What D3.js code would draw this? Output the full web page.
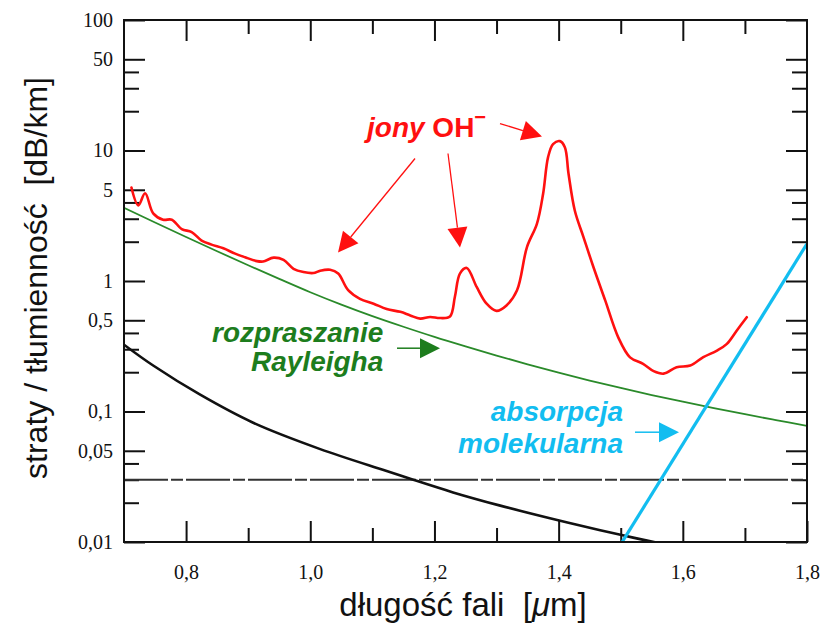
<!DOCTYPE html>
<html>
<head>
<meta charset="utf-8">
<script src="https://cdn.jsdelivr.net/npm/d3@7"></script>
<style>
  html, body { margin: 0; padding: 0; background: #fff; }
  svg { display: block; }
  text { white-space: pre; }
</style>
</head>
<body>
<svg id="chart" width="831" height="627"></svg>
<script>
// ---------- DATA ----------
const xMajorTicks = [0.8, 1.0, 1.2, 1.4, 1.6, 1.8];
const xMinorTicks = [0.9, 1.1, 1.3, 1.5, 1.7];
const xTopMajor = [0.8, 1.0, 1.2, 1.4, 1.6];
const yMajorTicks = [100, 50, 10, 5, 1, 0.5, 0.1, 0.05, 0.01];
const yMinorTicks = [40, 30, 20, 4, 3, 2, 0.4, 0.3, 0.2, 0.04, 0.03, 0.02];

// measured total loss (red)
const redWavelength = [0.712,0.723,0.734,0.747,0.763,0.777,0.793,0.809,0.825,0.841,0.860,0.879,0.895,0.914,0.924,0.941,0.957,0.973,0.989,1.005,1.016,1.032,1.045,1.061,1.080,1.102,1.123,1.145,1.161,1.177,1.193,1.209,1.225,1.233,1.241,1.252,1.268,1.284,1.300,1.316,1.333,1.349,1.365,1.375,1.383,1.391,1.402,1.410,1.416,1.426,1.440,1.456,1.475,1.496,1.515,1.536,1.553,1.569,1.590,1.612,1.633,1.655,1.671,1.687,1.703];
const redLoss = [5.2,3.8,4.7,3.3,2.95,2.95,2.5,2.37,2.04,1.9,1.78,1.62,1.52,1.42,1.41,1.51,1.45,1.24,1.17,1.15,1.2,1.22,1.14,0.85,0.73,0.67,0.61,0.58,0.545,0.515,0.53,0.52,0.535,0.76,1.14,1.26,0.9,0.67,0.59,0.65,0.85,1.82,2.74,4.66,8.9,11.2,11.8,10.6,6.6,3.47,2.17,1.28,0.71,0.37,0.26,0.232,0.204,0.195,0.218,0.225,0.261,0.293,0.33,0.418,0.528];

// Rayleigh scattering (green)
const greenWavelength = [0.70,0.75,0.80,0.85,0.90,0.95,1.00,1.05,1.10,1.15,1.20,1.25,1.30,1.35,1.40,1.45,1.50,1.55,1.60,1.65,1.70,1.75,1.80];
const greenLoss = [3.64,2.805,2.173,1.690,1.321,1.038,0.820,0.659,0.538,0.446,0.373,0.3155,0.2685,0.2301,0.1986,0.1726,0.1514,0.1337,0.1189,0.1062,0.0953,0.0859,0.0776];

// black curve
const blackWavelength = [0.700,0.747,0.822,0.908,1.016,1.123,1.161,1.230,1.306,1.386,1.467,1.520,1.575];
const blackLoss = [0.325,0.225,0.135,0.082,0.0515,0.0350,0.0305,0.0240,0.0190,0.0152,0.0123,0.0108,0.0095];

// molecular absorption (cyan)
const blueWavelength = [1.5, 1.8];
const blueLoss = [0.0096, 1.93];

// dashed reference level
const dashedLevel = 0.03;

// annotation anchors (data units)
const arrowsRed = [
  {from: [1.1687, 8.68], to: [1.0447, 1.654]},
  {from: [1.2218, 9.48], to: [1.2411, 1.806]},
  {from: [1.3056, 16.1], to: [1.3732, 12.8]}
];
const arrowGreen = {from: [1.1397, 0.3055], to: [1.2089, 0.3055]};
const arrowBlue = {from: [1.523, 0.0694], to: [1.5939, 0.0694]};

// ---------- DRAW ----------
const svg = d3.select('#chart');
const L = 124, R = 807, T = 20, B = 542;
const x = d3.scaleLinear().domain([0.7, 1.8]).range([L, R]);
const y = d3.scaleLog().domain([0.01, 100]).range([B, T]);
const fmt = v => String(v).replace('.', ',');
const fmtX = v => v.toFixed(1).replace('.', ',');

const RED = '#ff1010', GREEN = '#1d7d1d', GREENLINE = '#2a8a2a', CYAN = '#12bdf0', BLACK = '#111';

svg.append('defs').append('clipPath').attr('id', 'clip')
  .append('rect').attr('x', L).attr('y', T).attr('width', R - L).attr('height', B - T);

// axes (ticks inward)
function styleAxis(g, fontSize) {
  g.select('.domain').remove();
  g.selectAll('.tick line').attr('stroke', '#111').attr('stroke-width', 2);
  g.selectAll('.tick text').attr('fill', '#111')
    .attr('font-family', '"Liberation Serif", "DejaVu Serif", serif')
    .attr('font-size', fontSize);
}
svg.append('g').attr('transform', `translate(0,${B})`)
  .call(d3.axisBottom(x).tickValues(xMajorTicks).tickSize(-21).tickPadding(23).tickFormat(fmtX))
  .call(g => styleAxis(g, 20));
svg.append('g').attr('transform', `translate(0,${B})`)
  .call(d3.axisBottom(x).tickValues(xMinorTicks).tickSize(-14).tickFormat(''))
  .call(g => styleAxis(g, 20));
svg.append('g').attr('transform', `translate(0,${T})`)
  .call(d3.axisTop(x).tickValues(xTopMajor).tickSize(-21).tickFormat(''))
  .call(g => styleAxis(g, 20));
svg.append('g').attr('transform', `translate(0,${T})`)
  .call(d3.axisTop(x).tickValues(xMinorTicks).tickSize(-14).tickFormat(''))
  .call(g => styleAxis(g, 20));
svg.append('g').attr('transform', `translate(${L},0)`)
  .call(d3.axisLeft(y).tickValues(yMajorTicks).tickSize(-21).tickPadding(11).tickFormat(fmt))
  .call(g => styleAxis(g, 20));
svg.append('g').attr('transform', `translate(${L},0)`)
  .call(d3.axisLeft(y).tickValues(yMinorTicks).tickSize(-15).tickFormat(''))
  .call(g => styleAxis(g, 20));
svg.append('g').attr('transform', `translate(${R},0)`)
  .call(d3.axisRight(y).tickValues(yMajorTicks).tickSize(-21).tickFormat(''))
  .call(g => styleAxis(g, 20));
svg.append('g').attr('transform', `translate(${R},0)`)
  .call(d3.axisRight(y).tickValues(yMinorTicks).tickSize(-15).tickFormat(''))
  .call(g => styleAxis(g, 20));

const plot = svg.append('g').attr('clip-path', 'url(#clip)');
const mkLine = (curve) => d3.line().x(d => x(d[0])).y(d => y(d[1])).curve(curve);
const zip = (a, b) => a.map((v, i) => [v, b[i]]);

// dashed line
plot.append('path')
  .datum(zip(x.domain(), [dashedLevel, dashedLevel]))
  .attr('d', mkLine(d3.curveLinear))
  .attr('fill', 'none').attr('stroke', '#333').attr('stroke-width', 2)
  .attr('stroke-dasharray', '44,3,12,3');

plot.append('path').datum(zip(blackWavelength, blackLoss))
  .attr('d', mkLine(d3.curveCatmullRom.alpha(0.5)))
  .attr('fill', 'none').attr('stroke', BLACK).attr('stroke-width', 2.6);

plot.append('path').datum(zip(greenWavelength, greenLoss))
  .attr('d', mkLine(d3.curveCatmullRom.alpha(0.5)))
  .attr('fill', 'none').attr('stroke', GREENLINE).attr('stroke-width', 1.8);

plot.append('path').datum(zip(blueWavelength, blueLoss))
  .attr('d', mkLine(d3.curveLinear))
  .attr('fill', 'none').attr('stroke', CYAN).attr('stroke-width', 3.2);

plot.append('path').datum(zip(redWavelength, redLoss))
  .attr('d', mkLine(d3.curveCatmullRom.alpha(0.5)))
  .attr('fill', 'none').attr('stroke', RED).attr('stroke-width', 2.6)
  .attr('stroke-linejoin', 'round').attr('stroke-linecap', 'round');

// frame
svg.append('rect').attr('x', L).attr('y', T).attr('width', R - L).attr('height', B - T)
  .attr('fill', 'none').attr('stroke', '#111').attr('stroke-width', 2);

// arrows
function arrow(a, color, width) {
  const x0 = x(a.from[0]), y0 = y(a.from[1]), x1 = x(a.to[0]), y1 = y(a.to[1]);
  const ang = Math.atan2(y1 - y0, x1 - x0);
  const len = 20, hw = 10;
  const bx = x1 - len * Math.cos(ang), by = y1 - len * Math.sin(ang);
  svg.append('line').attr('x1', x0).attr('y1', y0).attr('x2', bx).attr('y2', by)
    .attr('stroke', color).attr('stroke-width', width);
  const px = -Math.sin(ang) * hw, py = Math.cos(ang) * hw;
  svg.append('path')
    .attr('d', `M${x1},${y1}L${bx + px},${by + py}L${bx - px},${by - py}Z`)
    .attr('fill', color);
}
arrowsRed.forEach(a => arrow(a, RED, 1.3));
arrow(arrowGreen, GREEN, 1.5);
arrow(arrowBlue, CYAN, 1.5);

// annotation texts
const sans = '"Liberation Sans", Arial, sans-serif';
const t1 = svg.append('text').attr('x', x(1.0914)).attr('y', y(12.6))
  .attr('font-family', sans).attr('font-size', 28).attr('fill', RED).attr('font-weight', 'bold');
t1.append('tspan').attr('font-style', 'italic').text('jony');
t1.append('tspan').text(' OH');
t1.append('tspan').attr('font-size', 20).attr('dy', -13).text('\u2212');

function label(lines, xv, yvs, color) {
  lines.forEach((s, i) => {
    svg.append('text').attr('x', x(xv)).attr('y', y(yvs[i]))
      .attr('text-anchor', 'end').attr('font-family', sans).attr('font-size', 28)
      .attr('font-weight', 'bold').attr('font-style', 'italic').attr('fill', color).text(s);
  });
}
label(['rozpraszanie', 'Rayleigha'], 1.1176, [0.338, 0.206], GREEN);
label(['absorpcja', 'molekularna'], 1.5037, [0.0853, 0.0477], CYAN);

// axis titles
const xt = svg.append('text').attr('x', 463).attr('y', 616)
  .attr('text-anchor', 'middle').attr('font-family', sans).attr('font-size', 33).attr('fill', '#111');
xt.append('tspan').text('długość fali  [');
xt.append('tspan').attr('font-style', 'italic').text('\u03bc');
xt.append('tspan').text('m]');

svg.append('text').attr('transform', `translate(47,278) rotate(-90)`)
  .attr('text-anchor', 'middle').attr('font-family', sans).attr('font-size', 32).attr('fill', '#111')
  .text('straty / tłumienność  [dB/km]');
</script>
</body>
</html>
